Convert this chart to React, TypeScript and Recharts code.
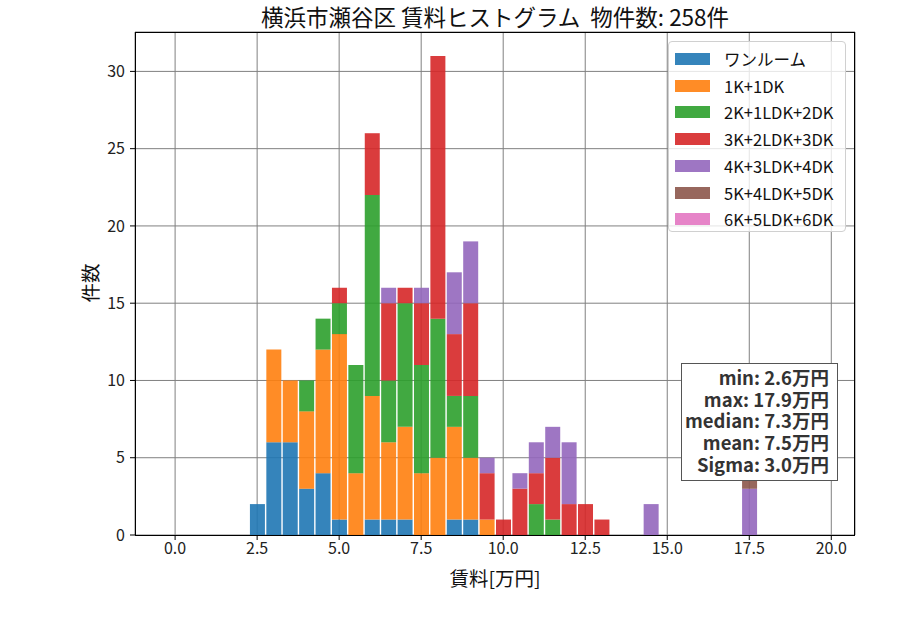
import React from 'react';
import { BarChart, Bar, XAxis, YAxis, CartesianGrid } from 'recharts';

const bins = [2.5, 3.0, 3.5, 4.0, 4.5, 5.0, 5.5, 6.0, 6.5, 7.0, 7.5, 8.0, 8.5, 9.0, 9.5, 10.0, 10.5, 11.0, 11.5, 12.0, 12.5, 13.0, 13.5, 14.0, 14.5, 15.0, 15.5, 16.0, 16.5, 17.0, 17.5];

const oneRoom = [2, 6, 6, 3, 4, 1, 0, 1, 1, 1, 0, 0, 1, 1, 0, 0, 0, 0, 0, 0, 0, 0, 0, 0, 0, 0, 0, 0, 0, 0, 0];
const k1 = [0, 6, 4, 5, 8, 12, 4, 8, 5, 6, 4, 5, 6, 4, 1, 0, 0, 0, 0, 0, 0, 0, 0, 0, 0, 0, 0, 0, 0, 0, 0];
const k2 = [0, 0, 0, 2, 2, 2, 7, 13, 4, 8, 7, 9, 2, 4, 0, 0, 0, 2, 1, 0, 0, 0, 0, 0, 0, 0, 0, 0, 0, 0, 0];
const k3 = [0, 0, 0, 0, 0, 1, 0, 4, 5, 1, 4, 17, 4, 6, 3, 1, 3, 2, 4, 2, 2, 1, 0, 0, 0, 0, 0, 0, 0, 0, 0];
const k4 = [0, 0, 0, 0, 0, 0, 0, 0, 1, 0, 1, 0, 4, 4, 1, 0, 1, 2, 2, 4, 0, 0, 0, 0, 2, 0, 0, 0, 0, 0, 3];
const k5 = [0, 0, 0, 0, 0, 0, 0, 0, 0, 0, 0, 0, 0, 0, 0, 0, 0, 0, 0, 0, 0, 0, 0, 0, 0, 0, 0, 0, 0, 0, 5];
const k6 = [0, 0, 0, 0, 0, 0, 0, 0, 0, 0, 0, 0, 0, 0, 0, 0, 0, 0, 0, 0, 0, 0, 0, 0, 0, 0, 0, 0, 0, 0, 0];

const seriesNames = ['ワンルーム', '1K+1DK', '2K+1LDK+2DK', '3K+2LDK+3DK', '4K+3LDK+4DK', '5K+4LDK+5DK', '6K+5LDK+6DK'];
const seriesValues = [oneRoom, k1, k2, k3, k4, k5, k6];
const colors = ['#1f77b4', '#ff7f0e', '#2ca02c', '#d62728', '#9467bd', '#8c564b', '#e377c2'];

const xTicks = [0, 2.5, 5, 7.5, 10, 12.5, 15, 17.5, 20];
const yTicks = [0, 5, 10, 15, 20, 25, 30];
const title = '横浜市瀬谷区 賃料ヒストグラム  物件数: 258件';
const statLines = ['min: 2.6万円', 'max: 17.9万円', 'median: 7.3万円', 'mean: 7.5万円', 'Sigma: 3.0万円'];

const data = bins.map((b, i) => {
  const row: Record<string, number> = { x: b };
  seriesNames.forEach((n, s) => { row[n] = seriesValues[s][i]; });
  return row;
});

const FONT = '"Noto Sans CJK JP", "Noto Sans", sans-serif';

export default function App() {
  return (
    <div style={{ position: 'absolute', left: 0, top: 0, width: 900, height: 630, background: '#fff', fontFamily: FONT }}>
      <BarChart width={900} height={630} data={data} margin={{ top: 32, right: 45, bottom: 65, left: 75 }}>
        <XAxis
          dataKey="x"
          type="number"
          domain={[-1.2225, 20.7225]}
          allowDataOverflow
          ticks={xTicks}
          tickFormatter={(v: number) => v.toFixed(1)}
          axisLine={false}
          tickLine={{ stroke: '#000' }}
          tickSize={5}
          tickMargin={3}
          height={30}
          tick={{ fill: '#222', fontSize: 16, fontFamily: FONT }}
        />
        <YAxis
          type="number"
          domain={[0, 32.55]}
          allowDataOverflow
          ticks={yTicks}
          axisLine={false}
          tickLine={{ stroke: '#000' }}
          tickSize={5}
          tickMargin={5}
          width={60}
          tick={{ fill: '#222', fontSize: 16, fontFamily: FONT }}
        />
        {seriesNames.map((n, s) => (
          <Bar key={n} dataKey={n} stackId="a" fill={colors[s]} fillOpacity={0.9} barSize={15} isAnimationActive={false} />
        ))}
        <CartesianGrid stroke="#808080" strokeWidth={1} fill="none" />
      </BarChart>

      {/* frame */}
      <div style={{ position: 'absolute', left: 135, top: 32, width: 720, height: 504, border: '1px solid #000', boxSizing: 'border-box', pointerEvents: 'none' }} />

      {/* title */}
      <div style={{ position: 'absolute', left: 135, top: 2, width: 720, textAlign: 'center', fontSize: 22.5, lineHeight: '28px', color: '#111', whiteSpace: 'pre' }}>{title}</div>

      {/* x label */}
      <div style={{ position: 'absolute', left: 135, top: 565, width: 720, textAlign: 'center', fontSize: 19.5, lineHeight: '26px', color: '#111' }}>賃料[万円]</div>

      {/* y label */}
      <div style={{ position: 'absolute', left: 90 - 40, top: 283 - 13, width: 80, textAlign: 'center', fontSize: 19.5, lineHeight: '26px', color: '#111', transform: 'rotate(-90deg)' }}>件数</div>

      {/* legend */}
      <div style={{ position: 'absolute', left: 668, top: 41, width: 178, height: 191, boxSizing: 'border-box', border: '1px solid #d0d0d0', borderRadius: 4, background: 'rgba(255,255,255,0.8)' }}>
        {seriesNames.map((n, s) => (
          <div key={n} style={{ position: 'absolute', left: 0, top: 4 + s * 26.7, height: 26, width: 176, display: 'flex', alignItems: 'center' }}>
            <div style={{ marginLeft: 6, width: 35, height: 12, background: colors[s], opacity: 0.9 }} />
            <div style={{ marginLeft: 14, fontSize: 16.5, color: '#111', whiteSpace: 'nowrap' }}>{n}</div>
          </div>
        ))}
      </div>

      {/* stats box */}
      <div style={{ position: 'absolute', left: 681, top: 363, width: 157, height: 118, boxSizing: 'border-box', border: '1px solid #555', background: '#fff', padding: '3px 8px 0 0', textAlign: 'right' }}>
        {statLines.map((t) => (
          <div key={t} style={{ fontSize: 18.5, fontWeight: 700, lineHeight: '21.7px', height: 21.7, color: '#333', whiteSpace: 'nowrap' }}>{t}</div>
        ))}
      </div>
    </div>
  );
}
